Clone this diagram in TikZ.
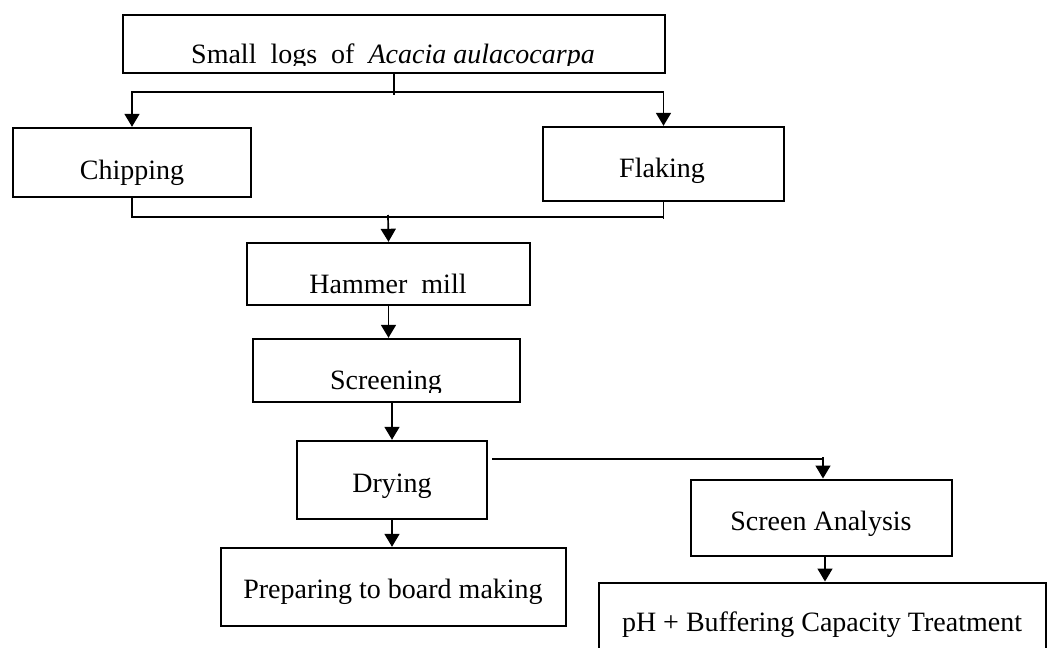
\documentclass[tikz,border=0pt]{standalone}
\usepackage{fontspec}
\setmainfont{Liberation Serif}
\usetikzlibrary{arrows.meta,calc}
\begin{document}
\begin{tikzpicture}[x=0.5pt,y=-0.5pt,
  box/.style={draw, line width=1.2pt, inner sep=0pt},
  txt/.style={inner sep=0pt, anchor=base, font=\fontsize{14pt}{17pt}\selectfont},
  conn/.style={line width=0.85pt},
  thinconn/.style={line width=0.6pt},
  arr/.style={conn, -{Triangle[width=7.5pt,length=6.5pt]}},
  thinarr/.style={thinconn, -{Triangle[width=7.5pt,length=6.5pt]}}]
\useasboundingbox (0,0) rectangle (1051,648);
\clip (0,0) rectangle (1051,648);
\fill[white] (0,0) rectangle (1051,648);
% boxes
\node[box, minimum width=271pt, minimum height=29pt] (top) at (394,44) {};
\node[box, minimum width=119pt, minimum height=34.5pt] (chip) at (132,162.5) {};
\node[box, minimum width=120.5pt, minimum height=37pt] (flak) at (663.5,164) {};
\node[box, minimum width=141.5pt, minimum height=31pt] (hammer) at (388.5,274) {};
\node[box, minimum width=133.5pt, minimum height=31.5pt] (screen) at (386.5,370.5) {};
\node[box, minimum width=95pt, minimum height=39pt] (dry) at (392,480) {};
\node[box, minimum width=130.5pt, minimum height=38pt] (sa) at (821.5,518) {};
\node[box, minimum width=172.5pt, minimum height=39pt] (prep) at (393.5,587) {};
\node[box, minimum width=223.5pt, minimum height=58pt] (ph) at (822.5,641) {};
% texts
\begin{scope}
\clip (122,14) rectangle (666,65.5);
\node[txt] (toptext) at (393,63) {Small\ \ logs\ \ of\ \ \textit{Acacia aulacocarpa}};
\end{scope}
\node[txt] (chiptext) at (132,179) {Chipping};
\node[txt] (flaktext) at (662,177) {Flaking};
\node[txt] (hammertext) at (388,293) {Hammer\ \ mill};
\begin{scope}
\clip (252,338) rectangle (521,392);
\node[txt] (screentext) at (386,389) {Screening};
\end{scope}
\node[txt] (drytext) at (392,492) {Drying};
\node[txt] (satext) at (821,530) {Screen Analysis};
\node[txt] (preptext) at (393,598) {Preparing to board making};
\node[txt] (phtext) at (822,631) {pH + Buffering Capacity Treatment};
% connectors
\draw[conn] (top.south) -- ++(0,21);
\draw[arr] ($(top.south)+(0,18)$) -| (chip.north);
\draw[arr] ($(top.south)+(0,18)$) -| (flak.north);
\draw[conn] (chip.south) |- ($(flak.south)+(0,15)$) -- (flak.south);
\draw[conn] (flak.south) -- ++(0,17);
\coordinate (j2) at (388,215);
\draw[arr] (j2) -- (hammer.north);
\draw[arr] (hammer.south) -- (hammer.south |- screen.north);
\draw[arr] (dry.north |- screen.south) -- (dry.north);
\draw[arr] (dry.south) -- (dry.south |- prep.north);
\coordinate (d1) at (492,459);
\draw[thinconn] (d1) -- (823,459);
\draw[conn] (823,457) -- (823,462);
\draw[arr] (823,459) -- (823,478.5);
\draw[arr] (825,557) -- (825,581.5);
\end{tikzpicture}
\end{document}
